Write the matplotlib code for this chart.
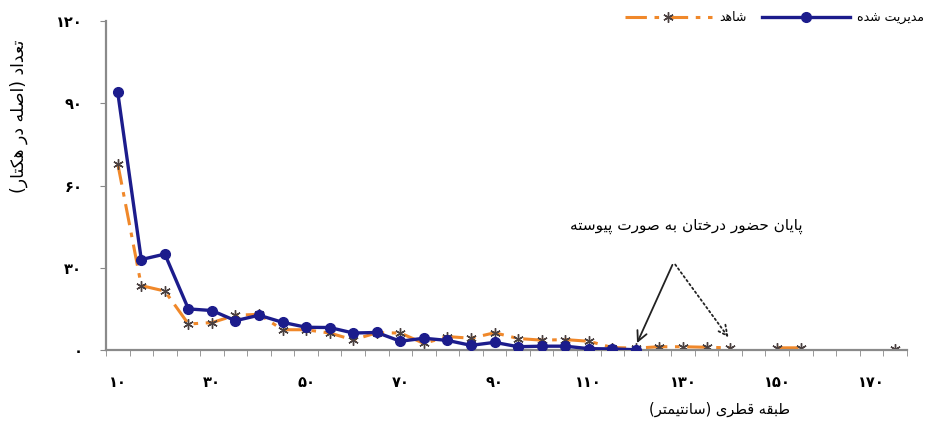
import numpy as np
import matplotlib
matplotlib.use('Agg')
from matplotlib import pyplot as plt

# diameter classes (cm), every 5 cm
classes = list(range(10, 180, 5))

# trees per hectare (nan = no trees in that class)
managed = [94, 33, 35, 15, 14.4, 10.7, 12.7, 10.1, 8.3, 8.2, 6.2, 6.4, 3.2, 4.3, 3.5, 1.7,
           2.8, 1.2, 1.4, 1.4, 0.5, 0.4, 0.1] + [np.nan] * 11
control = [68, 23.5, 21.5, 9.5, 10, 12.7, 13, 7.4, 7.4, 6.2, 3.7, 6.3, 6.2, 2.4, 4.9, 4.3,
           6.3, 4.2, 3.6, 3.8, 3.2, 0.9, 0.7, 1.2, 1.2, 1.0, 0.8, np.nan, 0.8, 0.8,
           np.nan, np.nan, np.nan, 0.5]

y_ticks = [0, 30, 60, 90, 120]
x_label_classes = [10, 30, 50, 70, 90, 110, 130, 150, 170]

label_managed = 'مدیریت شده'
label_control = 'شاهد'
note_text = 'پایان حضور درختان به صورت پیوسته'
y_title = 'تعداد (اصله در هکتار)'
x_title = 'طبقه قطری (سانتیمتر)'

# matplotlib has no arabic shaping, so pick the contextual forms by hand and reverse
FORMS = {
    'ا': (0xFE8D, 0xFE8E), 'ب': (0xFE8F, 0xFE90, 0xFE91, 0xFE92),
    'پ': (0xFB56, 0xFB57, 0xFB58, 0xFB59), 'ت': (0xFE95, 0xFE96, 0xFE97, 0xFE98),
    'ح': (0xFEA1, 0xFEA2, 0xFEA3, 0xFEA4), 'خ': (0xFEA5, 0xFEA6, 0xFEA7, 0xFEA8),
    'د': (0xFEA9, 0xFEAA), 'ر': (0xFEAD, 0xFEAE),
    'س': (0xFEB1, 0xFEB2, 0xFEB3, 0xFEB4), 'ش': (0xFEB5, 0xFEB6, 0xFEB7, 0xFEB8),
    'ص': (0xFEB9, 0xFEBA, 0xFEBB, 0xFEBC), 'ض': (0xFEBD, 0xFEBE, 0xFEBF, 0xFEC0),
    'ط': (0xFEC1, 0xFEC2, 0xFEC3, 0xFEC4), 'ع': (0xFEC9, 0xFECA, 0xFECB, 0xFECC),
    'ق': (0xFED5, 0xFED6, 0xFED7, 0xFED8), 'ک': (0xFB8E, 0xFB8F, 0xFB90, 0xFB91),
    'ل': (0xFEDD, 0xFEDE, 0xFEDF, 0xFEE0), 'م': (0xFEE1, 0xFEE2, 0xFEE3, 0xFEE4),
    'ن': (0xFEE5, 0xFEE6, 0xFEE7, 0xFEE8), 'ه': (0xFEE9, 0xFEEA, 0xFEEB, 0xFEEC),
    'و': (0xFEED, 0xFEEE), 'ی': (0xFBFC, 0xFBFD, 0xFBFE, 0xFBFF),
}


def farsi(text):
    out = []
    for i, ch in enumerate(text):
        if ch not in FORMS:
            out.append(ch)
            continue
        prev = text[i - 1] if i > 0 else ''
        nxt = text[i + 1] if i + 1 < len(text) else ''
        f = FORMS[ch]
        join_prev = prev in FORMS and len(FORMS[prev]) == 4
        join_next = len(f) == 4 and nxt in FORMS
        if join_prev and join_next:
            out.append(chr(f[3]))
        elif join_prev:
            out.append(chr(f[1]))
        elif join_next:
            out.append(chr(f[2]))
        else:
            out.append(chr(f[0]))
    s = ''.join(reversed(out))
    return s.translate(str.maketrans('()', ')('))


def fa_digits(n):
    return str(n).translate(str.maketrans('0123456789', '۰۱۲۳۴۵۶۷۸۹'))


plt.rcParams['font.family'] = ['DejaVu Sans']

fig = plt.figure(figsize=(9.41, 4.30), dpi=100)
ax = fig.add_axes([0.1126, 0.186, 0.851, 0.765])

pos = np.arange(len(classes))
ctl, = ax.plot(pos, control, color='#f0882a', lw=2.2, ls=(0, (7, 2.5, 1.5, 2.5)),
               marker=(6, 2, 0), ms=7.5, mec='#4a4040', mew=1.0, zorder=2)
man, = ax.plot(pos, managed, color='#1c1c8c', lw=2.4, marker='o', ms=7,
               mfc='#1c1c8c', mec='#1c1c8c', zorder=3)

ax.set_xlim(-0.5, len(classes) - 0.5)
ax.set_ylim(0, 120)

ax.set_yticks(y_ticks)
ax.set_yticklabels([fa_digits(v) for v in y_ticks], fontsize=10.5, fontweight='bold')
ax.tick_params(axis='y', length=4, pad=13, color='#888888')

ax.set_xticks([classes.index(c) for c in x_label_classes])
ax.set_xticklabels([fa_digits(c) for c in x_label_classes], fontsize=10.5, fontweight='bold')
ax.set_xticks(np.arange(-0.5, len(classes)), minor=True)
ax.tick_params(axis='x', which='major', length=0, pad=18)
ax.tick_params(axis='x', which='minor', length=4, color='#888888')

for side in ['top', 'right']:
    ax.spines[side].set_visible(False)
for side in ['left', 'bottom']:
    ax.spines[side].set_color('#8a8a8a')
    ax.spines[side].set_linewidth(1.6)

# arrows to where each series stops being continuous
end_man = int(np.where(~np.isnan(managed))[0][-1])
end_ctl = int(np.argmax(np.isnan(control)) - 1)
apex_x = (end_man + end_ctl) / 2 - 0.4
ax.annotate('', xy=(end_man, managed[end_man] + 1.5), xytext=(apex_x, 32),
            arrowprops=dict(arrowstyle='->', color='#222222', lw=1.3,
                            mutation_scale=18))
ax.annotate('', xy=(end_ctl, control[end_ctl] + 3), xytext=(apex_x, 32),
            arrowprops=dict(arrowstyle='->', color='#222222', lw=1.3, ls=':',
                            mutation_scale=18))
ax.text(apex_x + 0.55, 45, farsi(note_text), ha='center', va='center', fontsize=11)

fig.text(0.02, 0.73, farsi(y_title), rotation=90, ha='center', va='center', fontsize=12.5)
fig.text(0.765, 0.047, farsi(x_title), ha='center', va='center', fontsize=10.5)

fig.legend([ctl, man], [farsi(label_control), farsi(label_managed)], ncol=2,
           loc='center right', bbox_to_anchor=(0.994, 0.958), frameon=False,
           fontsize=9, handlelength=7, columnspacing=1.2, handletextpad=0.6)

fig.savefig('out.png', dpi=100)
